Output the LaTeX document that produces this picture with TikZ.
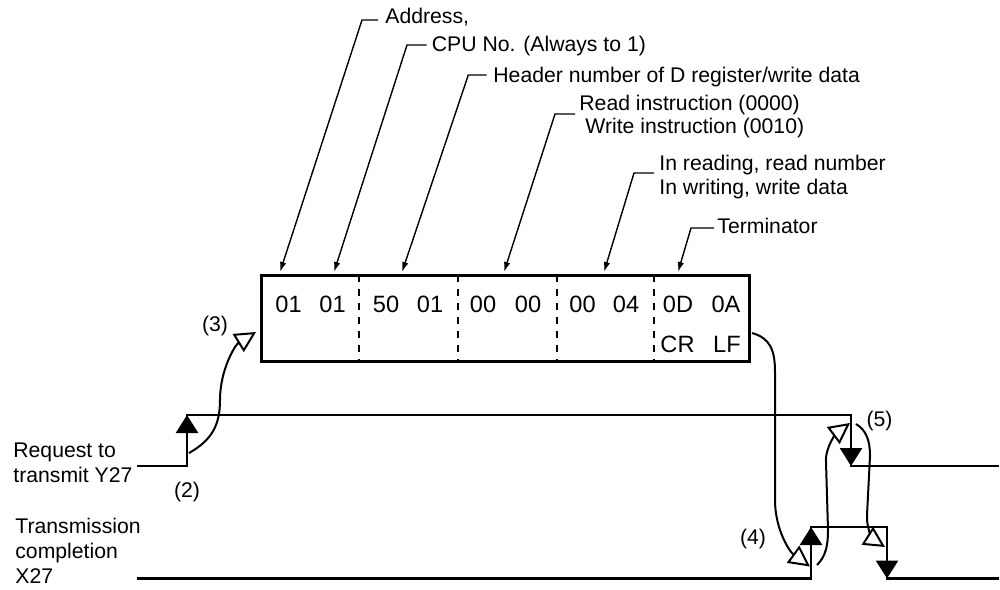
\documentclass[tikz,border=0pt]{standalone}
\usepackage{fontspec}
\setmainfont{Liberation Sans}
\usetikzlibrary{arrows.meta}
\tikzset{
  lbl/.style={font=\fontsize{10.6}{12.5}\selectfont, inner sep=0pt, anchor=base west},
  num/.style={font=\fontsize{11.8}{14}\selectfont, inner sep=0pt, anchor=base},
  tag/.style={font=\fontsize{10.6}{12.5}\selectfont, inner sep=0pt, anchor=base},
  lead/.style={line width=0.7pt, -{Latex[length=5pt,width=3.2pt]}},
  sig/.style={line width=1.25pt},
  edgearr/.style={line width=1.25pt, -{Triangle[length=9pt,width=11pt]}},
  flow/.style={line width=1pt, -{Triangle[length=10.5pt,width=10.5pt,fill=white]}},
  sepline/.style={line width=1pt, dash pattern=on 3.5pt off 3.5pt},
}
\begin{document}
\begin{tikzpicture}[x=0.5pt,y=-0.5pt]
\useasboundingbox (0,0) rectangle (1000,589);

% frame
\node[draw, line width=1.5pt, minimum width=244pt, minimum height=43.25pt, inner sep=0pt] (frame) at (505,318.25) {};
\draw[sepline] (359,275) -- (359,361.5);
\draw[sepline] (458,275) -- (458,361.5);
\draw[sepline] (557,275) -- (557,361.5);
\draw[sepline] (654,275) -- (654,361.5);

% numbers
\node[num] (n1) at (288.5,312) {01};
\node[num] (n2) at (332.5,312) {01};
\node[num] (n3) at (386,312) {50};
\node[num] (n4) at (430,312) {01};
\node[num] (n5) at (483,312) {00};
\node[num] (n6) at (528,312) {00};
\node[num] (n7) at (582.5,312) {00};
\node[num] (n8) at (626,312) {04};
\node[num] (n9) at (678,312) {0D};
\node[num] (n10) at (726,312) {0A};
\node[num] (n11) at (677.5,352) {CR};
\node[num] (n12) at (727,352) {LF};

% labels
\node[lbl] (lAddr) at (385,23) {Address,};
\node[lbl] (lCpu) at (431.5,51.5) {CPU No. (Always to 1)};
\node[lbl] (lHead) at (493,82) {Header number of D register/write data};
\node[lbl] (lRead) at (579,110) {Read instruction (0000)};
\node[lbl] (lWrite) at (585,133) {Write instruction (0010)};
\node[lbl] (lInR) at (659,170) {In reading, read number};
\node[lbl] (lInW) at (659,194) {In writing, write data};
\node[lbl] (lTerm) at (717,233) {Terminator};

% leaders
\coordinate (a1) at (378,20);   \coordinate (a2) at (362,20);   \coordinate (a3) at (280,272);
\coordinate (b1) at (426.7,45); \coordinate (b2) at (407,45);   \coordinate (b3) at (334,272);
\coordinate (c1) at (486.7,75); \coordinate (c2) at (468.3,75); \coordinate (c3) at (402,272);
\coordinate (d1) at (575,114);  \coordinate (d2) at (555,114);  \coordinate (d3) at (504,272);
\coordinate (e1) at (654,173);  \coordinate (e2) at (634,173);  \coordinate (e3) at (604,272);
\coordinate (f1) at (714,228);  \coordinate (f2) at (691,228);  \coordinate (f3) at (678,272);
\draw[lead] (a1) -- (a2) -- (a3);
\draw[lead] (b1) -- (b2) -- (b3);
\draw[lead] (c1) -- (c2) -- (c3);
\draw[lead] (d1) -- (d2) -- (d3);
\draw[lead] (e1) -- (e2) -- (e3);
\draw[lead] (f1) -- (f2) -- (f3);

% signal labels
\node[lbl] (rq1) at (13,457) {Request to};
\node[lbl] (rq2) at (13,482) {transmit Y27};
\node[lbl] (tc1) at (15,533) {Transmission};
\node[lbl] (tc2) at (15,558) {completion};
\node[lbl] (tc3) at (15,583) {X27};

% signals
\coordinate (ya) at (137,466); \coordinate (yb) at (187,466); \coordinate (yc) at (187,415);
\coordinate (yd) at (851,415); \coordinate (ye) at (851,466); \coordinate (yf) at (999,466);
\coordinate (xa) at (137,578.5); \coordinate (xb) at (811,578.5); \coordinate (xc) at (811,527);
\coordinate (xd) at (887,527); \coordinate (xe) at (887,578.5); \coordinate (xf) at (999,578.5);
\draw[sig] (ya) -- (yb) -- (yc) -- (yd) -- (ye) -- (yf);
\draw[sig] (xa) -- (xb) -- (xc) -- (xd) -- (xe) -- (xf);
\draw[edgearr] (yb) -- (yc);
\draw[edgearr] (yd) -- (ye);
\draw[edgearr] (xb) -- (xc);
\draw[edgearr] (xd) -- (xe);

% step tags
\node[tag] (t2) at (187,497) {(2)};
\node[tag] (t3) at (215,331) {(3)};
\node[tag] (t4) at (753,544) {(4)};
\node[tag] (t5) at (879.5,426) {(5)};

% flow curves
\coordinate (s3) at (189,453); \coordinate (e3c) at (256,332);
\draw[flow] (s3) .. controls (212,440) and (220,425) .. (220,400) .. controls (220,370) and (235,345) .. (e3c);
\coordinate (s4) at (752,333); \coordinate (e4c) at (810,566.5);
\draw[flow] (s4) .. controls (770,338) and (775,350) .. (775,372) -- (775,500) .. controls (775,530) and (790,552) .. (e4c);
\coordinate (s5a) at (817,565); \coordinate (e5a) at (850,423);
\draw[flow] (s5a) .. controls (826,556) and (828,545) .. (828,530) -- (826,462) .. controls (825,446) and (838,432) .. (e5a);
\coordinate (s5b) at (856,424); \coordinate (e5b) at (885,547);
\draw[flow] (s5b) .. controls (866,430) and (870,440) .. (870,456) -- (867,515) .. controls (866,528) and (874,540) .. (e5b);
\end{tikzpicture}
\end{document}
